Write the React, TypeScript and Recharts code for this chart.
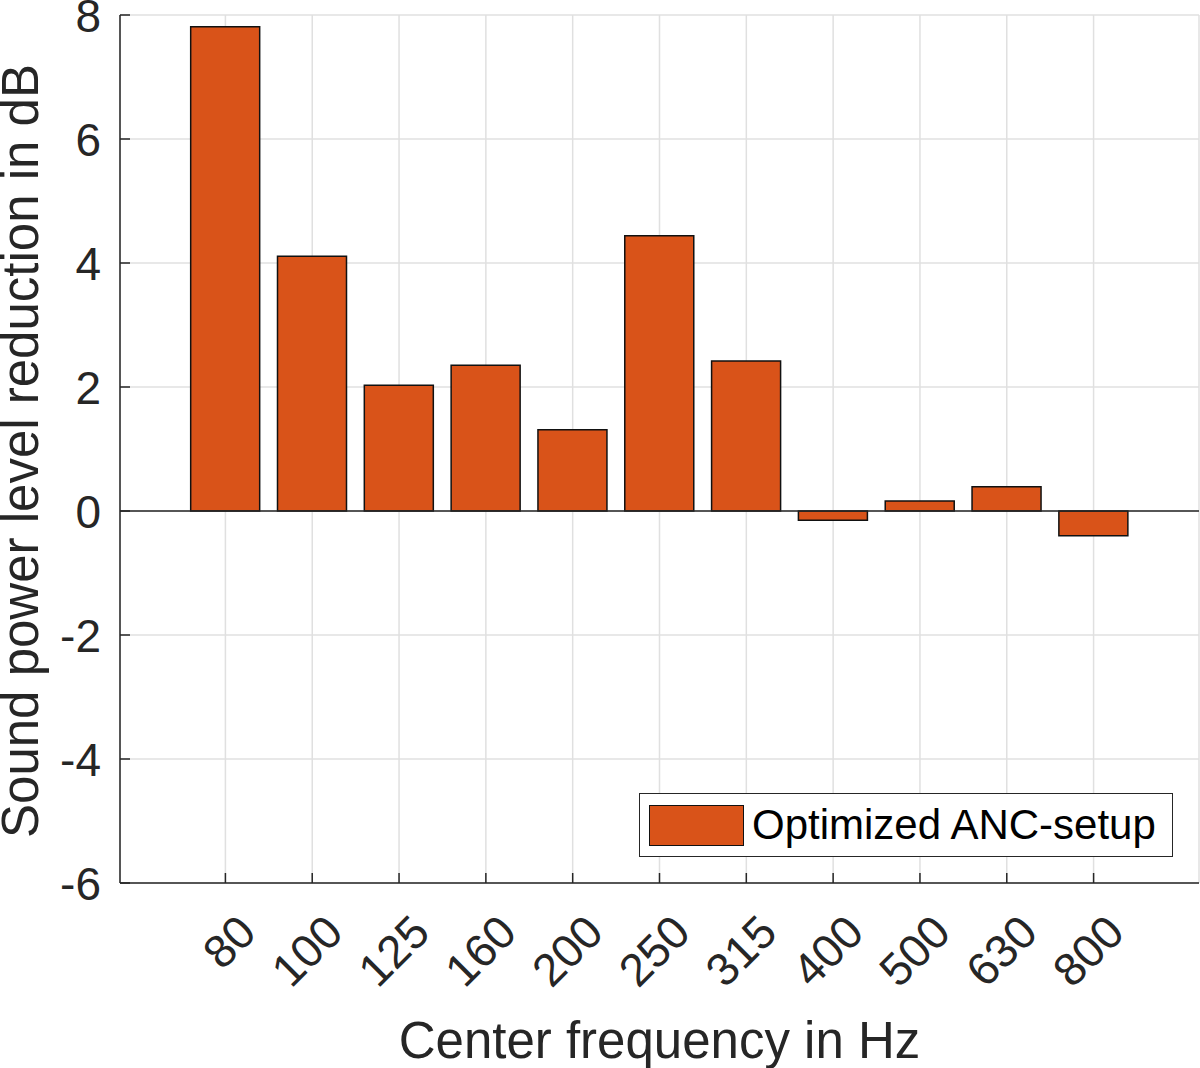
import React from "react"
import {
  BarChart,
  Bar,
  XAxis,
  YAxis,
  CartesianGrid,
  ReferenceLine,
  Legend,
} from "recharts"

const frequencies = ["80", "100", "125", "160", "200", "250", "315", "400", "500", "630", "800"]
const reduction = [7.81, 4.11, 2.03, 2.35, 1.31, 4.44, 2.42, -0.15, 0.16, 0.39, -0.4]
const yTicks = [-6, -4, -2, 0, 2, 4, 6, 8]
const seriesName = "Optimized ANC-setup"

const data = frequencies.map((f, i) => ({ freq: f, value: reduction[i] }))

const FONT = "'Liberation Sans', Arial, Helvetica, sans-serif"
const AXIS = "#262626"
const BAR = "#D95319"

const BottomTick = ({ x, y, payload }: any) => (
  <g>
    <line x1={x} x2={x} y1={y} y2={y - 10} stroke={AXIS} strokeWidth={1.5} />
    <text
      x={x + 33}
      y={y + 52}
      transform={`rotate(-45, ${x + 33}, ${y + 52})`}
      textAnchor="end"
      fontSize={46}
      fontFamily={FONT}
      fill={AXIS}
    >
      {payload.value}
    </text>
  </g>
)

const TopTick = ({ x, y }: any) => (
  <line x1={x} x2={x} y1={y} y2={y + 10} stroke={AXIS} strokeWidth={1.5} />
)

const LeftTick = ({ x, y, payload }: any) => (
  <g>
    <line x1={x} x2={x + 10} y1={y} y2={y} stroke={AXIS} strokeWidth={1.5} />
    <text
      x={x - 19}
      y={y}
      dy="0.36em"
      textAnchor="end"
      fontSize={46}
      fontFamily={FONT}
      fill={AXIS}
    >
      {payload.value}
    </text>
  </g>
)

const RightTick = ({ x, y }: any) => (
  <line x1={x} x2={x - 10} y1={y} y2={y} stroke={AXIS} strokeWidth={1.5} />
)

const LegendBox = () => (
  <div
    style={{
      width: 534,
      height: 64,
      boxSizing: "border-box",
      border: `1.5px solid ${AXIS}`,
      background: "#fff",
      position: "relative",
      fontFamily: FONT,
    }}
  >
    <div
      style={{
        position: "absolute",
        left: 9,
        top: 11,
        width: 95,
        height: 41,
        boxSizing: "border-box",
        background: BAR,
        border: "1.5px solid #111",
      }}
    />
    <div
      style={{
        position: "absolute",
        left: 112,
        top: 0,
        height: 61,
        lineHeight: "61px",
        fontSize: 42,
        color: "#000",
        whiteSpace: "nowrap",
      }}
    >
      {seriesName}
    </div>
  </div>
)

export default function App() {
  return (
    <div style={{ position: "absolute", left: 0, top: 0, width: 1200, height: 1068, background: "#fff" }}>
      <BarChart
        width={1200}
        height={1068}
        data={data}
        margin={{ top: 15, right: 1, bottom: 0, left: 0 }}
        barCategoryGap="10%"
      >
        <CartesianGrid stroke="#e0e0e0" strokeWidth={1.5} />
        <XAxis
          dataKey="freq"
          height={185}
          padding={{ left: 62, right: 62 }}
          tickSize={0}
          tickMargin={0}
          tick={<BottomTick />}
          interval={0}
          axisLine={{ stroke: AXIS, strokeWidth: 1.5 }}
          tickLine={false}
          label={{
            value: "Center frequency in Hz",
            position: "insideBottom",
            offset: 10,
            fontSize: 51,
            fontFamily: FONT,
            fill: AXIS,
          }}
        />
        <XAxis
          xAxisId="top"
          orientation="top"
          dataKey="freq"
          height={0}
          padding={{ left: 62, right: 62 }}
          tickSize={0}
          tickMargin={0}
          tick={<TopTick />}
          interval={0}
          axisLine={{ stroke: AXIS, strokeWidth: 1.5 }}
          tickLine={false}
        />
        <YAxis
          width={120}
          domain={[-6, 8]}
          ticks={yTicks}
          type="number"
          allowDataOverflow
          tickSize={0}
          tickMargin={0}
          tick={<LeftTick />}
          axisLine={{ stroke: AXIS, strokeWidth: 1.5 }}
          tickLine={false}
        />
        <YAxis
          yAxisId="right"
          orientation="right"
          width={0}
          domain={[-6, 8]}
          ticks={yTicks}
          type="number"
          tickSize={0}
          tickMargin={0}
          tick={<RightTick />}
          axisLine={{ stroke: AXIS, strokeWidth: 1.5 }}
          tickLine={false}
        />
        <ReferenceLine y={0} stroke={AXIS} strokeWidth={1.5} />
        <Bar
          dataKey="value"
          name={seriesName}
          fill={BAR}
          stroke="#111"
          strokeWidth={1.5}
          isAnimationActive={false}
        />
        <Legend
          layout="horizontal"
          verticalAlign="middle"
          align="center"
          content={<LegendBox />}
          wrapperStyle={{ left: 639, top: 793, width: 534, height: 64 }}
        />
        <text
          x={38}
          y={451}
          transform="rotate(-90, 38, 451)"
          textAnchor="middle"
          fontSize={51}
          fontFamily={FONT}
          fill={AXIS}
        >
          Sound power level reduction in dB
        </text>
      </BarChart>
    </div>
  )
}
